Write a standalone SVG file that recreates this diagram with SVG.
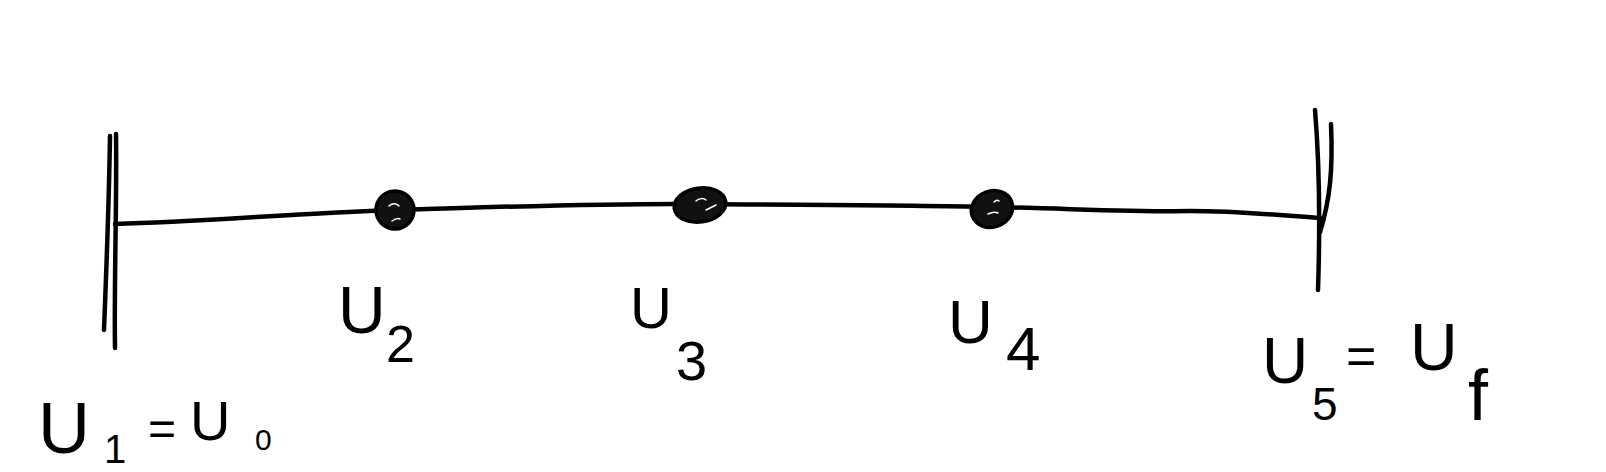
<svg xmlns="http://www.w3.org/2000/svg" width="1606" height="472" viewBox="0 0 1606 472">
<style>
.ink{fill:none;stroke:#000;stroke-width:4.5;stroke-linecap:round;stroke-linejoin:round}
.dot{fill:#111;stroke:#000;stroke-width:3.5}
.hl{fill:none;stroke:#fff;stroke-width:1.5;stroke-linecap:round}
.lbl{font-family:"Liberation Sans","DejaVu Sans",sans-serif;fill:#000}
</style>
<rect width="1606" height="472" fill="#fff"/>
<g id="connectors">
<path class="ink" d="M115,224 C200,222 300,213 395,210 C500,207 600,203 700,204 C800,205 900,205 992,207 C1080,209 1140,212 1190,211 C1240,211 1290,216 1320,218"/>
</g>
<g id="wall-left">
<path class="ink" d="M110,136 C109,200 106,280 104,330"/>
<path class="ink" d="M116,134 C117,200 114,280 115,348"/>
</g>
<g id="wall-right">
<path class="ink" d="M1315,110 C1320,170 1320,230 1318,290"/>
<path class="ink" d="M1331,124 C1333,170 1330,200 1320,232"/>
</g>
<g id="node-u2">
<ellipse class="dot" cx="395" cy="210" rx="19" ry="19"/>
<path class="hl" d="M389,206 C392,203 397,203 399,206"/>
<path class="hl" d="M392,221 C395,219 398,218 400,219"/>
</g>
<g id="node-u3">
<ellipse class="dot" cx="700" cy="205" rx="26" ry="17" transform="rotate(-8 700 205)"/>
<path class="hl" d="M696,201 C699,198 704,198 706,200"/>
<path class="hl" d="M706,210 C710,208 714,206 716,205"/>
</g>
<g id="node-u4">
<ellipse class="dot" cx="992" cy="209" rx="21" ry="18" transform="rotate(-20 992 209)"/>
<path class="hl" d="M988,214 C992,212 996,212 998,213"/>
<path class="hl" d="M994,202 C996,200 998,200 999,201"/>
</g>
<g id="label-u1">
<text class="lbl"><tspan x="38" y="453" font-size="72">U</tspan><tspan x="104" y="463" font-size="40">1</tspan><tspan x="148" y="445" font-size="48">=</tspan><tspan x="190" y="440" font-size="56">U</tspan><tspan x="255" y="450" font-size="30">0</tspan></text>
</g>
<g id="label-u2">
<text class="lbl"><tspan x="338" y="333" font-size="66">U</tspan><tspan x="386" y="362" font-size="52">2</tspan></text>
</g>
<g id="label-u3">
<text class="lbl"><tspan x="630" y="328" font-size="58">U</tspan><tspan x="676" y="380" font-size="56">3</tspan></text>
</g>
<g id="label-u4">
<text class="lbl"><tspan x="948" y="343" font-size="62">U</tspan><tspan x="1006" y="370" font-size="62">4</tspan></text>
</g>
<g id="label-u5">
<text class="lbl"><tspan x="1262" y="383" font-size="64">U</tspan><tspan x="1312" y="420" font-size="46">5</tspan><tspan x="1346" y="374" font-size="52">=</tspan><tspan x="1410" y="370" font-size="66">U</tspan><tspan x="1468" y="420" font-size="72">f</tspan></text>
</g>
</svg>
